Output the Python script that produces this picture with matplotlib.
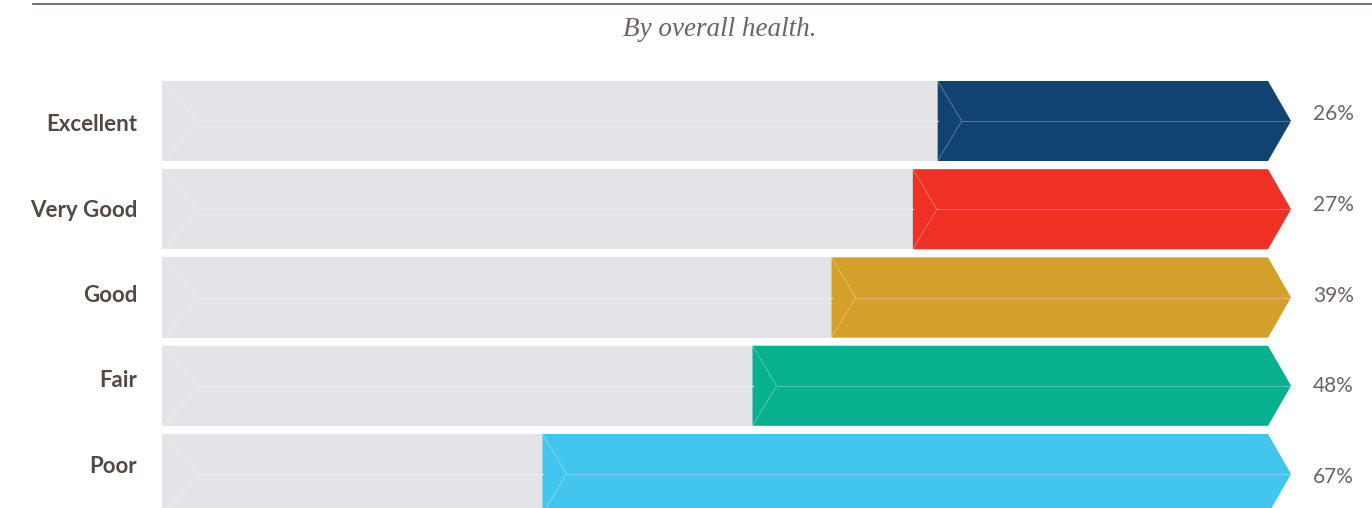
import matplotlib
matplotlib.use('Agg')
import matplotlib.pyplot as plt
from matplotlib.patches import Polygon, Rectangle

# Data
categories = ['Excellent', 'Very Good', 'Good', 'Fair', 'Poor']
values = [26, 27, 39, 48, 67]
# length of each coloured arrow as drawn (share of full track)
bar_len = [31.3, 33.5, 40.7, 47.7, 66.3]
colors = ['#114370', '#ee3124', '#d4a02a', '#07b08e', '#43c6ee']

track = '#e3e4e8'
label_col = '#544843'
pct_col = '#6d6360'

fig = plt.figure(figsize=(13.72, 5.08), dpi=100)
ax = fig.add_axes([0, 0, 1, 1])
ax.set_xlim(-14.35, 107.17)
ax.set_ylim(4.385, -1.371)
ax.axis('off')

h = 0.907       # bar height (rows)
tip = 2.04      # depth of the arrow point
notch = 2.13    # depth of the chevron line on coloured part
gnotch = 3.28   # chevron depth on grey track

for i, (cat, v, L, c) in enumerate(zip(categories, values, bar_len, colors)):
    top, bot = i - h / 2, i + h / 2
    # grey track
    ax.add_patch(Rectangle((0, top), 100 - tip, h, facecolor=track, edgecolor='none'))
    ax.plot([0, gnotch, 0], [top, i, bot], color='#e9eaed', lw=0.8)
    s = 100 - L
    ax.plot([gnotch, s], [i, i], color='#e9eaed', lw=0.8)
    # coloured arrow
    pts = [(s, top), (100 - tip, top), (100, i), (100 - tip, bot), (s, bot)]
    ax.add_patch(Polygon(pts, closed=True, facecolor=c, edgecolor='none'))
    ax.plot([s, s + notch, s], [top, i, bot], color='white', alpha=0.3, lw=0.7)
    ax.plot([s + notch, 100], [i, i], color='white', alpha=0.3, lw=0.7)
    # labels (category names sit a bit tighter, percentages a bit wider than the rows)
    ax.text(-2.21, (4 + i * 85.25) / 88.25, cat, ha='right', va='center', fontsize=16,
            fontweight='bold', family='Lato', color=label_col)
    ax.text(101.95, (-6.5 + i * 90.6) / 88.25, f'{v}%', ha='left', va='center',
            fontsize=15, family='Lato', color=pct_col)

# top rule and subtitle
fig.add_artist(plt.Line2D([33 / 1372, 1], [1 - 3.5 / 508] * 2, color='#6d6360', lw=1.3))
fig.text(720 / 1372, 1 - 29 / 508, 'By overall health.', ha='center', va='center',
         fontsize=19.5, style='italic', family='Liberation Serif', color=pct_col)

fig.savefig('out.png', dpi=100)
